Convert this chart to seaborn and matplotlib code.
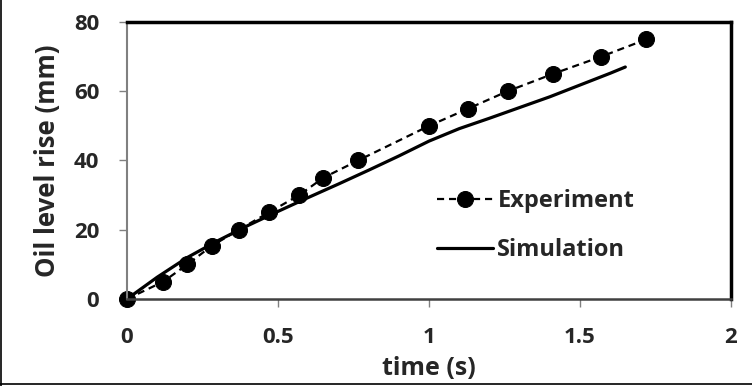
import matplotlib
matplotlib.use('Agg')
import numpy as np
import pandas as pd
import matplotlib.pyplot as plt
import seaborn as sns

# experiment data
exp_time = [0, 0.12, 0.20, 0.28, 0.37, 0.47, 0.57, 0.65, 0.765, 1.0, 1.13, 1.26, 1.41, 1.57, 1.72]
exp_rise = [0, 5, 10, 15.3, 20, 25, 30, 35, 40, 50, 55, 60, 65, 70, 75]

# simulation curve
sim_time = [0, 0.1, 0.2, 0.3, 0.4, 0.5, 0.6, 0.7, 0.8, 0.9, 1.0, 1.1, 1.2, 1.3, 1.4, 1.5, 1.6, 1.65]
sim_rise = [0, 6.3, 12, 16.8, 21.2, 25.3, 29.3, 33.2, 37.2, 41.3, 45.6, 49.2, 52.2, 55.3, 58.4, 61.8, 65.2, 67]

x_ticks = [0, 0.5, 1, 1.5, 2]
x_labels = ['0', '0.5', '1', '1.5', '2']
y_ticks = [0, 20, 40, 60, 80]

sns.set_style('white')
plt.rcParams['font.family'] = ['Open Sans', 'DejaVu Sans']
plt.rcParams['font.weight'] = 'bold'

fig = plt.figure(figsize=(7.52, 3.86), dpi=100)
ax = fig.add_axes([0.1689, 0.2254, 0.8032, 0.7176])

exp_df = pd.DataFrame({'t': exp_time, 'h': exp_rise})
sim_df = pd.DataFrame({'t': sim_time, 'h': sim_rise})

sns.lineplot(data=exp_df, x='t', y='h', ax=ax, color='black', linewidth=1.6,
             linestyle=(0, (3.2, 2.2)), marker='o', markersize=11.5,
             markeredgecolor='black', label='Experiment', sort=False, clip_on=False)
sns.lineplot(data=sim_df, x='t', y='h', ax=ax, color='black', linewidth=2.3,
             label='Simulation', sort=False)

ax.set_xlim(0, 2)
ax.set_ylim(0, 80)
ax.set_xticks(x_ticks)
ax.set_xticklabels(x_labels)
ax.set_yticks(y_ticks)
ax.tick_params(axis='both', labelsize=16, direction='out', length=6,
               width=1, color='#808080', bottom=True, left=True)
ax.tick_params(axis='x', pad=14)
ax.tick_params(axis='y', pad=14)
for lab in ax.get_xticklabels() + ax.get_yticklabels():
    lab.set_fontweight('bold')

ax.set_xlabel('time (s)', fontsize=18, fontweight='bold', labelpad=6)
ax.set_ylabel('Oil level rise (mm)', fontsize=18.5, fontweight='bold', labelpad=9)

ax.spines['top'].set_color('black')
ax.spines['top'].set_linewidth(2.5)
ax.spines['right'].set_color('black')
ax.spines['right'].set_linewidth(2.5)
ax.spines['left'].set_color('#808080')
ax.spines['left'].set_linewidth(1.5)
ax.spines['bottom'].set_color('#404040')
ax.spines['bottom'].set_linewidth(1.8)

leg = ax.legend(loc='upper left', bbox_to_anchor=(0.494, 0.44), frameon=False,
                fontsize=17, handlelength=2.35, handletextpad=0.2,
                labelspacing=1.08, borderpad=0)
for t in leg.get_texts():
    t.set_fontweight('bold')

# outer chart border (left and bottom visible)
fig.add_artist(plt.Line2D([0.001, 0.001], [0, 1], color='black', lw=1.2,
                          transform=fig.transFigure))
fig.add_artist(plt.Line2D([0, 1], [0.004, 0.004], color='black', lw=1.2,
                          transform=fig.transFigure))

fig.savefig('out.png', dpi=100)
